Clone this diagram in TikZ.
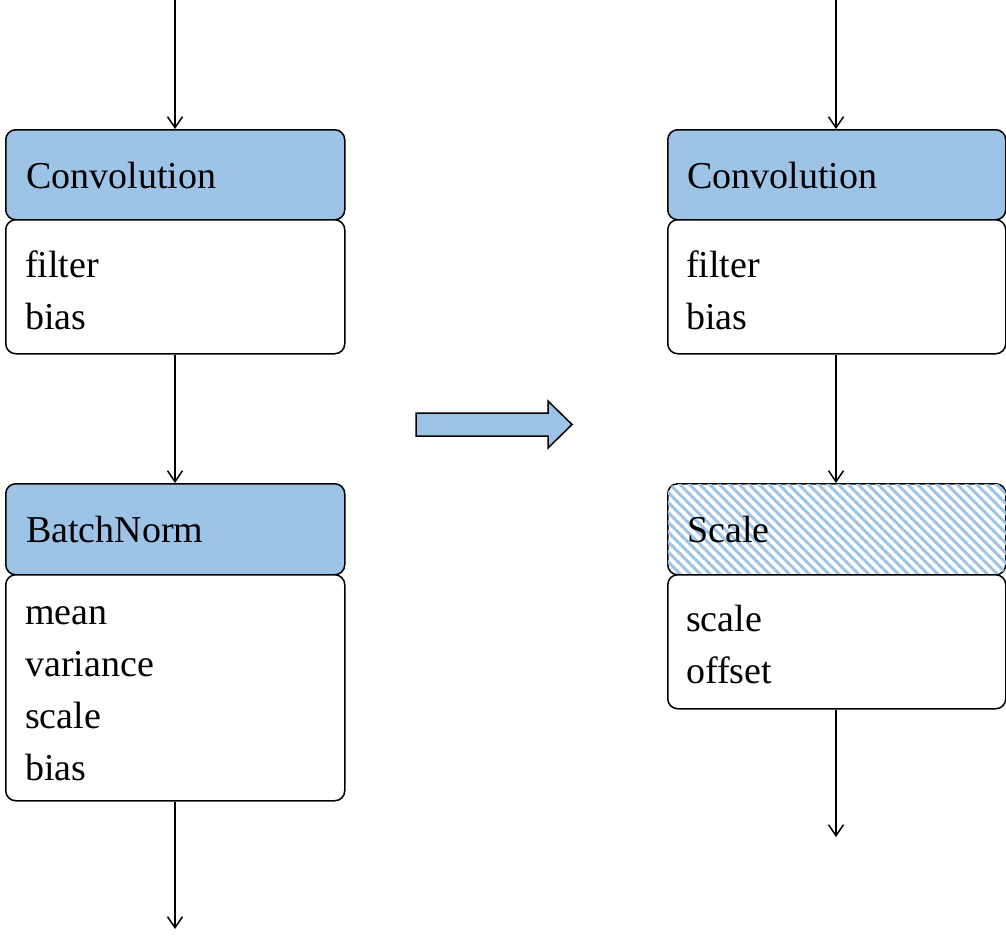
\documentclass[tikz,border=0pt]{standalone}
\usepackage{fontspec}
\setmainfont{Liberation Serif}
\usetikzlibrary{arrows.meta,patterns.meta}
\definecolor{hdrblue}{HTML}{9DC3E6}
\tikzset{
  box/.style={draw=black, line width=1.5pt, rounded corners=10pt, inner sep=0pt, anchor=north west},
  hdr/.style={box, fill=hdrblue},
  body/.style={box, fill=white},
  hatched/.style={box, fill=white, postaction={pattern={Lines[angle=-45,distance=7pt,line width=3pt]}, pattern color=hdrblue}},
  lbl/.style={anchor=base west, inner sep=0pt, font=\fontsize{38}{52}\selectfont},
  conn/.style={draw=black, line width=1.5pt, -{Straight Barb[length=11pt,width=15pt,line width=1.5pt]}}
}
\begin{document}
\begin{tikzpicture}[x=1pt,y=-1pt]
\useasboundingbox (0,0) rectangle (1006,943);
% left column
\node[hdr, minimum width=339pt, minimum height=90pt] (c1h) at (5,129) {};
\node[body, minimum width=339pt, minimum height=134pt] (c1b) at (5,219) {};
\node[hdr, minimum width=339pt, minimum height=91pt] (bnh) at (5,483) {};
\node[body, minimum width=339pt, minimum height=226pt] (bnb) at (5,574) {};
\node[lbl] (t1) at (26,188) {Convolution};
\node[lbl] (t2) at (25,277) {filter};
\node[lbl] (t3) at (25,329) {bias};
\node[lbl] (t4) at (26,542) {BatchNorm};
\node[lbl] (t5) at (25,624) {mean};
\node[lbl] (t6) at (25,676) {variance};
\node[lbl] (t7) at (25,728) {scale};
\node[lbl] (t8) at (25,780) {bias};
\coordinate (ltop) at (175,0);
\coordinate (lbot) at (175,929);
\draw[conn] (ltop) -- (c1h.north -| ltop);
\draw[conn] (c1b.south -| ltop) -- (bnh.north -| ltop);
\draw[conn] (bnb.south -| ltop) -- (lbot);
% right column
\node[hdr, minimum width=338pt, minimum height=90pt] (c2h) at (667,129) {};
\node[body, minimum width=338pt, minimum height=134pt] (c2b) at (667,219) {};
\node[hatched, minimum width=338pt, minimum height=91pt] (sch) at (667,483) {};
\node[body, minimum width=338pt, minimum height=134pt] (scb) at (667,574) {};
\node[lbl] (r1) at (687,188) {Convolution};
\node[lbl] (r2) at (686,277) {filter};
\node[lbl] (r3) at (686,329) {bias};
\node[lbl] (r4) at (687,542) {Scale};
\node[lbl] (r5) at (686,631) {scale};
\node[lbl] (r6) at (686,683) {offset};
\coordinate (rtop) at (836,0);
\coordinate (rbot) at (836,837);
\draw[conn] (rtop) -- (c2h.north -| rtop);
\draw[conn] (c2b.south -| rtop) -- (sch.north -| rtop);
\draw[conn] (scb.south -| rtop) -- (rbot);
% big arrow
\draw[line width=1.5pt, fill=hdrblue, line join=miter]
  (416,413) -- (548,413) -- (548,401) -- (572,424.5) -- (548,448) -- (548,436) -- (416,436) -- cycle;
\end{tikzpicture}
\end{document}
